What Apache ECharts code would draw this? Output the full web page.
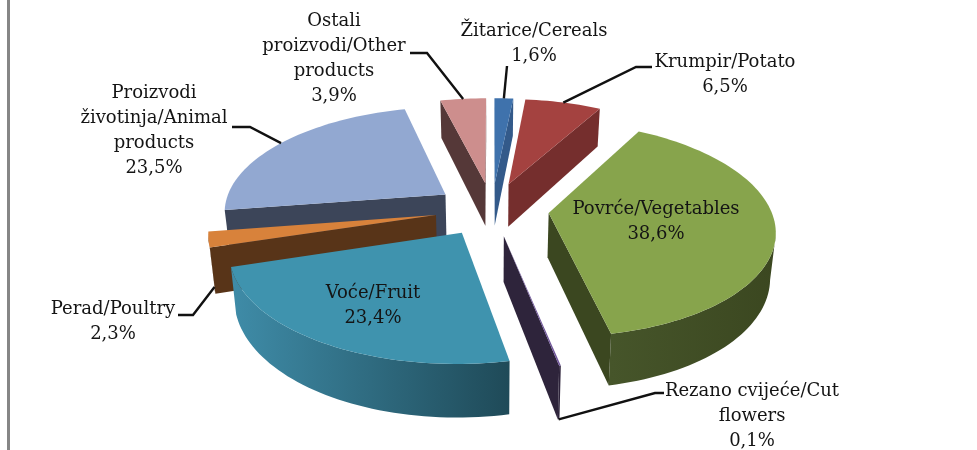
<!DOCTYPE html>
<html>
<head>
<meta charset="utf-8">
<style>
  html, body { margin: 0; padding: 0; background: #fff; }
  #main { width: 977px; height: 450px; }
</style>
<script src="https://cdn.jsdelivr.net/npm/echarts@6/dist/echarts.min.js"></script>
</head>
<body>
<div id="main"></div>
<script>
// data, clockwise from 12 o'clock
const categories = ['Žitarice/Cereals', 'Krumpir/Potato', 'Povrće/Vegetables', 'Rezano cvijeće/Cut\nflowers', 'Voće/Fruit', 'Perad/Poultry', 'Proizvodi\nživotinja/Animal\nproducts', 'Ostali\nproizvodi/Other\nproducts']
const shares = [1.6, 6.5, 38.6, 0.1, 23.4, 2.3, 23.5, 3.9]

const topColors = ['#3f72ac', '#a44240', '#87a44c', '#6f559a', '#3f93ae', '#d8823b', '#92a8d1', '#cd8e8d']
const wallColors = ['#335a8a', '#752e2d', '#3b4720', '#2e243b', '#1f4a58', '#583418', '#3c4559', '#553838']
const wallLight = ['#335a8a', '#752e2d', '#46552a', '#2e243b', '#3f8ca8', '#583418', '#3c4559', '#553838']

// label box centre, and the elbow points of the leader line (empty = no leader)
const labelBoxes = [[534, 44], [725, 75], [656, 222], [752, 416], [373, 306], [113, 322], [154, 131], [334, 59]]
const leaders = [
  [[507, 66]],
  [[636, 67], [652, 67]],
  [],
  [[655, 393], [664, 393]],
  [],
  [[193, 315], [178, 315]],
  [[250, 127], [232, 127]],
  [[427, 53], [410, 53]]
]

// fake 3D pie geometry
const cx = 492, cy = 209, R = 222, explode = 57, tilt = 0.47, persp = 0.146, depth = 44
const labelFont = '18px "DejaVu Serif", serif'

const total = shares.reduce((a, b) => a + b, 0)
const rad = (share) => share / total * Math.PI * 2
const slices = []
let run = 0
shares.forEach((v, i) => {
  const a = rad(run)
  run += v
  const b = rad(run)
  slices.push({ index: i, a, b, mid: (a + b) / 2 })
})
// paint from the back to the front
const drawOrder = slices.slice().sort((p, q) => Math.cos(q.mid) - Math.cos(p.mid))

// the underside sits a little further from the camera, so it pulls in towards the centre
const project = (X, V, z) => {
  const s = 1 / (1 + persp * V / R)
  return [cx + X * s * (1 - 0.02 * z / depth), cy - tilt * V * s + z * s]
}
const cross = (o, p, q) => (p[0] - o[0]) * (q[1] - o[1]) - (p[1] - o[1]) * (q[0] - o[0])

const renderSlice = (params) => {
  const sl = drawOrder[params.dataIndex]
  const i = sl.index
  const ox = explode * Math.sin(sl.mid), ov = explode * Math.cos(sl.mid)
  const rim = (t, z) => project(ox + R * Math.sin(t), ov + R * Math.cos(t), z)
  const apex = project(ox, ov, 0)
  const apexLow = project(ox, ov, depth)

  const steps = Math.max(2, Math.ceil((sl.b - sl.a) / 0.03))
  const angles = []
  for (let n = 0; n <= steps; n++) angles.push(sl.a + (sl.b - sl.a) * n / steps)
  const arc = angles.map((t) => rim(t, 0))
  const midPt = rim(sl.mid, 0)
  const children = []

  // the side wall along the rim, only where it faces us
  const front = []
  for (let n = 0; n < steps; n++) {
    if (arc[n + 1][0] < arc[n][0]) {
      if (!front.length) front.push(angles[n])
      front.push(angles[n + 1])
    }
  }
  if (front.length > 1) {
    const upper = front.map((t) => rim(t, 0))
    const lower = front.map((t) => rim(t, depth)).reverse()
    children.push({
      type: 'polygon',
      shape: { points: upper.concat(lower) },
      style: {
        fill: new echarts.graphic.LinearGradient(upper[upper.length - 1][0], 0, upper[0][0], 0, [
          { offset: 0, color: wallLight[i] },
          { offset: 1, color: wallColors[i] }
        ], true)
      }
    })
  }

  // the two cut faces, only when the slice itself is not below them
  ;[sl.a, sl.b].forEach((t) => {
    const p = rim(t, 0)
    const down = [apex[0], apex[1] + 10]
    if (cross(apex, p, midPt) * cross(apex, p, down) < 0) {
      children.push({
        type: 'polygon',
        shape: { points: [apex, p, rim(t, depth), apexLow] },
        style: { fill: wallColors[i] }
      })
    }
  })

  children.push({
    type: 'polygon',
    shape: { points: [apex].concat(arc) },
    style: { fill: topColors[i] }
  })

  // leader line starts on the rim, on the lower rim for slices seen from the front
  if (leaders[i].length) {
    const frontSide = Math.cos(sl.mid) < 0
    let start = midPt
    if (frontSide) start = i === 3 ? rim(sl.mid, depth) : rim(sl.a, depth * 0.85)
    children.push({
      type: 'polyline',
      shape: { points: [start].concat(leaders[i]) },
      style: { stroke: '#111', lineWidth: 2.4, fill: 'none' }
    })
  }

  const pct = shares[i].toFixed(1).replace('.', ',') + '%'
  children.push({
    type: 'text',
    z2: 10,
    style: {
      text: categories[i] + '\n' + pct,
      x: labelBoxes[i][0],
      y: labelBoxes[i][1],
      align: 'center',
      verticalAlign: 'middle',
      font: labelFont,
      lineHeight: 25,
      fill: '#141414'
    }
  })

  return { type: 'group', children }
}

const chart = echarts.init(document.getElementById('main'), null, { renderer: 'canvas' })
chart.setOption({
  animation: false,
  backgroundColor: '#fff',
  graphic: [{
    type: 'rect',
    shape: { x: 7, y: 0, width: 3, height: 450 },
    style: { fill: '#868686' }
  }],
  series: [{
    type: 'custom',
    coordinateSystem: 'none',
    silent: true,
    clip: false,
    data: drawOrder.map((sl) => shares[sl.index]),
    renderItem: renderSlice
  }]
})
</script>
</body>
</html>
